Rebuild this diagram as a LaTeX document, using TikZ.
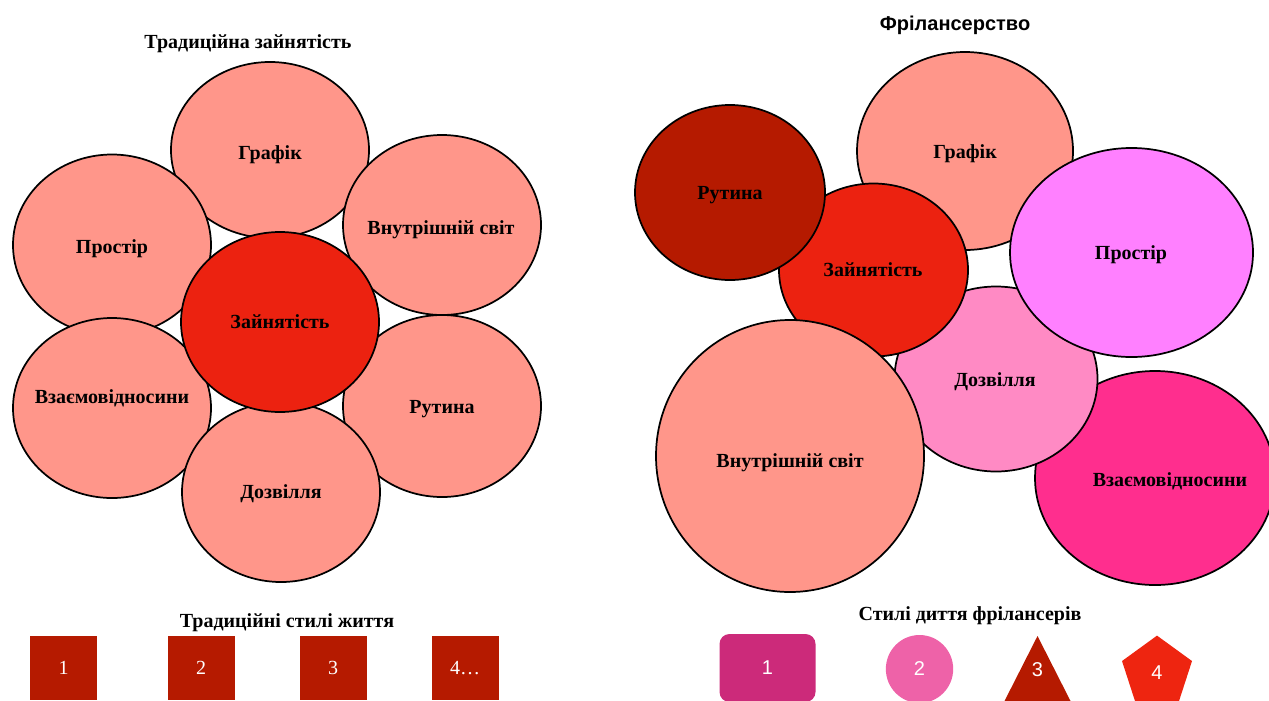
\documentclass[tikz,border=0pt]{standalone}
\usepackage{fontspec}
\setmainfont{Liberation Serif}
\newfontfamily\sansf{Liberation Sans}
\usetikzlibrary{shapes.geometric}
\definecolor{salmon}{HTML}{FF968A}
\definecolor{hotred}{HTML}{EC2210}
\definecolor{darkred}{HTML}{B51A00}
\definecolor{violetpink}{HTML}{FF80FF}
\definecolor{softpink}{HTML}{FF8AC4}
\definecolor{deeppink}{HTML}{FF2E8E}
\definecolor{legone}{HTML}{CC2A7A}
\definecolor{legtwo}{HTML}{EE62A8}
\definecolor{legfour}{HTML}{EE2510}
\begin{document}
\begin{tikzpicture}[x=0.75pt,y=-0.75pt,
  bubble/.style={ellipse, draw=black, line width=1.3pt, inner sep=0pt},
  bsize/.style 2 args={minimum width={#1*1.5pt}, minimum height={#2*1.5pt}},
  lbl/.style={font=\fontsize{15}{18}\selectfont\bfseries, text=black, inner sep=0pt, anchor=base},
  ttl/.style={font=\fontsize{15}{18}\selectfont\bfseries, inner sep=0pt, anchor=base},
  legbox/.style={rectangle, fill=darkred, inner sep=0pt, minimum width=50.25pt, minimum height=48pt,
    text=white, font=\fontsize{15}{18}\selectfont},
  legsans/.style={inner sep=0pt, text=white, font=\sansf\fontsize{15}{18}\selectfont}]
\useasboundingbox (0,0) rectangle (1269,700);

% ---------- left cluster ----------
\node[ttl] (ltitle) at (248,48) {Традиційна зайнятість};
\node[bubble, fill=salmon, bsize={99}{88}] (lgraf) at (270,150) {};
\node[lbl] (lgraft) at (270,159) {Графік};
\node[bubble, fill=salmon, bsize={99}{90.5}] (lpros) at (112,245) {};
\node[lbl] (lprost) at (112,253) {Простір};
\node[bubble, fill=salmon, bsize={99}{90}] (lvnut) at (442,225) {};
\node[lbl] (lvnutt) at (441,234) {Внутрішній світ};
\node[bubble, fill=salmon, bsize={99}{90}] (lvzaem) at (112,408) {};
\node[lbl] (lvzaemt) at (112,403) {Взаємовідносини};
\node[bubble, fill=salmon, bsize={99}{91}] (lrut) at (442,406) {};
\node[lbl] (lrutt) at (442,413) {Рутина};
\node[bubble, fill=salmon, bsize={99}{90}] (ldoz) at (281,492) {};
\node[lbl] (ldozt) at (281,498) {Дозвілля};
\node[bubble, fill=hotred, bsize={99}{90}] (lzayn) at (280,322) {};
\node[lbl] (lzaynt) at (280,328) {Зайнятість};

% ---------- right cluster ----------
\node[ttl, font=\sansf\fontsize{15}{18}\selectfont\bfseries] (rtitle) at (955,30) {Фрілансерство};
\node[bubble, fill=salmon, bsize={108}{99}] (rgraf) at (965,151) {};
\node[lbl] (rgraft) at (965,158) {Графік};
\node[bubble, fill=deeppink, bsize={120}{107}] (rvzaem) at (1155,478) {};
\node[lbl] (rvzaemt) at (1170,486) {Взаємовідносини};
\node[bubble, fill=softpink, bsize={101.5}{92.5}] (rdoz) at (996,379) {};
\node[lbl] (rdozt) at (995,386) {Дозвілля};
\node[bubble, fill=violetpink, bsize={121.5}{104.5}] (rpros) at (1131.5,252.5) {};
\node[lbl] (rprost) at (1131,259) {Простір};
\node[bubble, fill=hotred, bsize={94.5}{86.5}] (rzayn) at (873.5,270) {};
\node[lbl] (rzaynt) at (873,276) {Зайнятість};
\node[bubble, fill=darkred, bsize={95}{87.5}] (rrut) at (730,192.5) {};
\node[lbl] (rrutt) at (730,199) {Рутина};
\node[bubble, fill=salmon, bsize={134}{136}] (rvnut) at (790,456) {};
\node[lbl] (rvnutt) at (790,467) {Внутрішній світ};

% ---------- left legend ----------
\node[ttl] (lltitle) at (287,627) {Традиційні стилі життя};
\node[legbox] (lg1) at (63.5,668) {1};
\node[legbox] (lg2) at (201,668) {2};
\node[legbox] (lg3) at (333,668) {3};
\node[legbox] (lg4) at (465,668) {4…};

% ---------- right legend ----------
\node[ttl] (rltitle) at (970,620) {Стилі диття фрілансерів};
\node[legsans, rectangle, rounded corners=7.5pt, fill=legone, minimum width=72pt, minimum height=51pt] (rg1) at (767.5,668) {1};
\node[legsans, ellipse, fill=legtwo, minimum width=50.5pt, minimum height=51pt] (rg2) at (919.5,669) {2};
\fill[darkred] (1037.5,636) -- (1071,702) -- (1004,702) -- cycle;
\node[legsans] (rg3) at (1037.5,670) {3};
\node[legsans, regular polygon, regular polygon sides=5, fill=legfour, minimum size=55.2pt] (rg4) at (1157,672.4) {4};
\end{tikzpicture}
\end{document}
